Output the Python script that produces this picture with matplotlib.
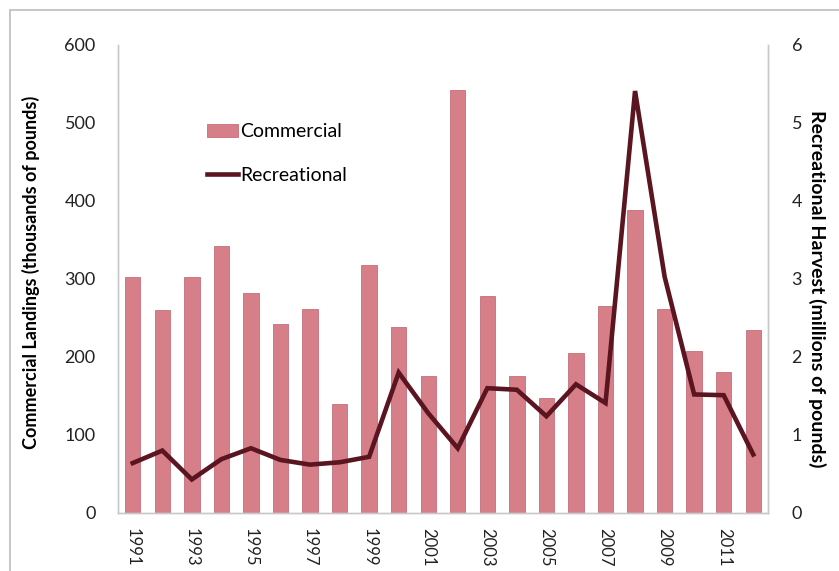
import numpy as np
import matplotlib.pyplot as plt
from matplotlib.patches import Rectangle

plt.rcParams['font.family'] = ['Lato', 'DejaVu Sans']

years = list(range(1991, 2013))
commercial = [303, 260, 303, 342, 282, 242, 262, 140, 318, 238, 175, 542,
              278, 175, 148, 205, 265, 388, 262, 208, 181, 235]
recreational = [0.64, 0.80, 0.43, 0.69, 0.83, 0.68, 0.62, 0.65, 0.72, 1.80, 1.28, 0.83,
                1.60, 1.58, 1.24, 1.65, 1.41, 5.41, 3.03, 1.52, 1.51, 0.75]
tick_labels = [str(y) if (y - 1991) % 2 == 0 else '' for y in years]

bar_color = '#d77f88'
line_color = '#5a1520'
axis_gray = '#c8c8c8'

fig = plt.figure(figsize=(8.39, 5.71), dpi=100)
ax = fig.add_axes([0.1406, 0.1016, 0.7748, 0.8196])
ax2 = ax.twinx()

x = np.arange(len(years))
bars = ax.bar(x, commercial, 0.52, color=bar_color, edgecolor='#c46f79', linewidth=0.6,
              label='Commercial', zorder=2)
line, = ax2.plot(x, recreational, color=line_color, lw=3.3, label='Recreational',
                 solid_joinstyle='miter', zorder=3)

ax.set_xlim(-0.5, len(years) - 0.5)
ax.set_ylim(0, 600)
ax2.set_ylim(0, 6)
ax.set_yticks(range(0, 601, 100))
ax2.set_yticks(range(0, 7))
ax.set_xticks(x)
ax.set_xticklabels(tick_labels, rotation=270, fontsize=12)

for a in (ax, ax2):
    a.tick_params(axis='y', length=0, labelsize=13, colors='#222222')
    a.spines['top'].set_visible(False)
    for s in ('left', 'right', 'bottom'):
        a.spines[s].set_color(axis_gray)
        a.spines[s].set_linewidth(1)
ax.tick_params(axis='x', length=0, colors='#222222', pad=11)
ax.tick_params(axis='y', pad=16)
ax2.tick_params(axis='y', pad=17)

ax.set_ylabel('Commercial Landings (thousands of pounds)', fontsize=13,
              fontweight='bold')
ax.yaxis.set_label_coords(-0.12, 0.515)
ax2.set_ylabel('Recreational Harvest (millions of pounds)', fontsize=14,
               fontweight='bold', rotation=270)
ax2.yaxis.set_label_coords(1.09, 0.48)

ax2.legend([bars, line], ['Commercial', 'Recreational'], loc='upper left',
           bbox_to_anchor=(0.11, 0.87), frameon=False, fontsize=14,
           handlelength=1.6, handletextpad=0.1, labelspacing=1.35)

fig.patches.append(Rectangle((0.012, -0.1), 1.2, 1.0825, transform=fig.transFigure,
                             fill=False, edgecolor='#bdbdbd', lw=1.2))

fig.savefig('out.png', dpi=100)
